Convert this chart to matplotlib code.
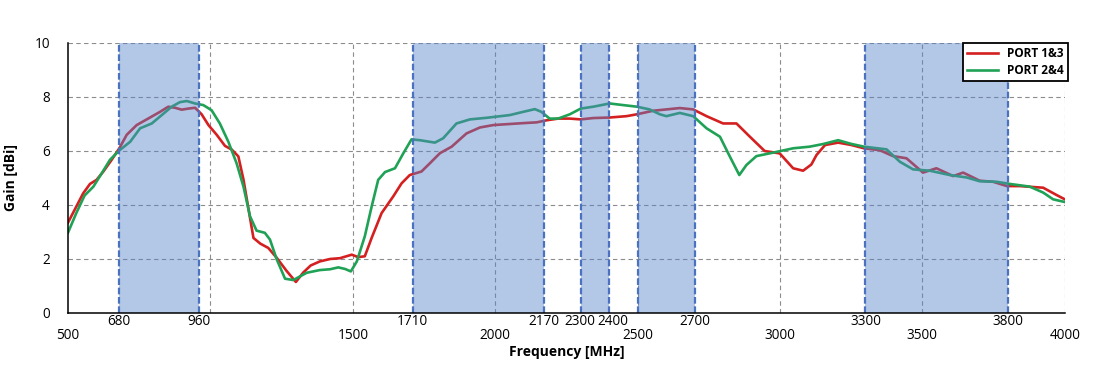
"""Gain vs frequency for two antenna port pairs, with the service bands shaded."""

import matplotlib.pyplot as plt
from matplotlib.transforms import ScaledTranslation

# measured gain, PORT 1&3
freq_red = [500, 553, 577, 600, 624, 653, 680, 706, 741, 788, 823, 852, 876, 899,
            922, 946, 969, 993, 1022, 1051, 1075, 1098, 1116, 1134, 1151, 1175,
            1203, 1233, 1268, 1300, 1326, 1352, 1384, 1420, 1455, 1496, 1519,
            1542, 1566, 1601, 1642, 1671, 1700, 1741, 1770, 1806, 1847, 1899,
            1946, 1993, 2051, 2110, 2145, 2182, 2221, 2262, 2300, 2344, 2402,
            2461, 2498, 2554, 2601, 2648, 2695, 2742, 2800, 2847, 2894, 2946,
            2999, 3046, 3081, 3110, 3128, 3158, 3204, 3251, 3295, 3350, 3397,
            3444, 3502, 3549, 3608, 3643, 3701, 3748, 3797, 3842, 3924, 3971, 4000]
gain_red = [3.35, 4.43, 4.78, 4.93, 5.24, 5.67, 6.1, 6.6, 6.96, 7.24, 7.45, 7.64, 7.6,
            7.53, 7.57, 7.6, 7.36, 6.96, 6.6, 6.19, 6.05, 5.8, 4.94, 3.83, 2.78,
            2.57, 2.41, 2.04, 1.55, 1.15, 1.5, 1.76, 1.91, 2.0, 2.03, 2.16, 2.07,
            2.1, 2.78, 3.7, 4.32, 4.8, 5.11, 5.24, 5.54, 5.92, 6.16, 6.65, 6.87,
            6.96, 7.0, 7.04, 7.06, 7.14, 7.2, 7.2, 7.17, 7.22, 7.24, 7.29, 7.36,
            7.49, 7.54, 7.59, 7.54, 7.29, 7.02, 7.02, 6.53, 6.0, 5.91, 5.36, 5.27,
            5.5, 5.85, 6.22, 6.31, 6.22, 6.1, 6.03, 5.81, 5.73, 5.2, 5.36, 5.07,
            5.2, 4.9, 4.86, 4.7, 4.7, 4.64, 4.37, 4.21]

# measured gain, PORT 2&4
freq_green = [500, 529, 558, 589, 618, 647, 680, 718, 753, 794, 829, 864, 893, 917,
              946, 975, 1004, 1033, 1063, 1092, 1116, 1139, 1162, 1191, 1209, 1233,
              1262, 1291, 1338, 1384, 1420, 1449, 1473, 1493, 1514, 1542, 1566,
              1589, 1613, 1648, 1677, 1706, 1735, 1788, 1817, 1864, 1911, 1970,
              2051, 2098, 2139, 2162, 2191, 2221, 2262, 2300, 2344, 2402, 2449,
              2498, 2542, 2578, 2601, 2648, 2695, 2742, 2789, 2824, 2857, 2882,
              2917, 2976, 3046, 3104, 3152, 3204, 3251, 3295, 3374, 3421, 3467,
              3526, 3596, 3655, 3701, 3760, 3807, 3877, 3924, 3959, 4000]
gain_green = [2.98, 3.7, 4.35, 4.68, 5.17, 5.67, 6.02, 6.34, 6.84, 7.02, 7.33, 7.64,
              7.81, 7.85, 7.76, 7.7, 7.51, 7.02, 6.34, 5.54, 4.68, 3.58, 3.05, 2.97,
              2.72, 1.98, 1.27, 1.22, 1.49, 1.59, 1.62, 1.69, 1.63, 1.54, 1.91, 2.84,
              3.94, 4.93, 5.22, 5.36, 5.91, 6.43, 6.4, 6.31, 6.47, 7.02, 7.17, 7.23,
              7.33, 7.45, 7.55, 7.45, 7.2, 7.2, 7.36, 7.57, 7.64, 7.76, 7.7, 7.64,
              7.54, 7.36, 7.29, 7.41, 7.29, 6.84, 6.53, 5.79, 5.11, 5.48, 5.81, 5.94,
              6.1, 6.16, 6.26, 6.4, 6.26, 6.16, 6.06, 5.6, 5.32, 5.27, 5.11, 5.02,
              4.88, 4.86, 4.78, 4.68, 4.46, 4.21, 4.11]

bands = [(680, 960), (1710, 2170), (2300, 2400), (2500, 2700), (3300, 3800)]
edge_ticks = [680, 960, 1710, 2170, 2300, 2400, 2700, 3300, 3800]
main_ticks = [500, 1500, 2000, 2500, 3000, 3500, 4000]
grid_x = [1000, 1500, 2000, 2500, 3000, 3500, 4000]
grid_y = [2, 4, 6, 8, 10]
y_ticks = [0, 2, 4, 6, 8, 10]

TICK_FONT = {"family": "Open Sans", "size": 9.8}

fig = plt.figure(figsize=(11.1, 3.88), dpi=100)
ax = fig.add_axes([0.0613, 0.1933, 0.898, 0.6959])

for gx in grid_x:
    ax.axvline(gx, color="#8c8c8c", lw=0.8, ls=(0, (4, 3)), zorder=1)
for gy in grid_y:
    ax.axhline(gy, color="#8c8c8c", lw=0.8, ls=(0, (4, 3)), zorder=1)

ax.plot(freq_red, gain_red, color="#d42020", lw=1.9, label="PORT 1&3", zorder=2,
        solid_joinstyle="round")
ax.plot(freq_green, gain_green, color="#1fa255", lw=1.9, label="PORT 2&4", zorder=2,
        solid_joinstyle="round")

# bands sit on top of the curves, semi transparent
for lo, hi in bands:
    ax.axvspan(lo, hi, color="#5883ca", alpha=0.45, lw=0, zorder=3)
    for edge in (lo, hi):
        ax.axvline(edge, color="#4a72c0", lw=1.6, ls=(0, (3, 1.2)), zorder=4)

ax.set_xlim(500, 4000)
ax.set_ylim(0, 10)

ax.set_xticks(main_ticks)
ax.set_xticklabels([str(t) for t in main_ticks], fontdict=TICK_FONT)
ax.set_xticks(edge_ticks, minor=True)
ax.set_xticklabels([str(t) for t in edge_ticks], minor=True, fontdict=TICK_FONT)
ax.tick_params(axis="x", which="major", length=0, pad=11)
ax.tick_params(axis="x", which="minor", length=0, pad=0.5)

# the 2300 / 2400 labels are crowded, nudge them apart a little
nudge = {2300: -1, 2400: 4}
for tick_val, label in zip(edge_ticks, ax.get_xticklabels(minor=True)):
    if tick_val in nudge:
        shift = ScaledTranslation(nudge[tick_val] / 100, 0, fig.dpi_scale_trans)
        label.set_transform(label.get_transform() + shift)

ax.set_yticks(y_ticks)
ax.set_yticklabels([str(t) for t in y_ticks], fontdict=TICK_FONT)
ax.tick_params(axis="y", length=0, pad=13)

for side in ("top", "right"):
    ax.spines[side].set_visible(False)
for side in ("left", "bottom"):
    ax.spines[side].set_linewidth(1.1)
    ax.spines[side].set_zorder(5)

ax.set_xlabel("Frequency [MHz]", fontsize=10, fontweight="bold", family="Open Sans",
              labelpad=1)
ax.set_ylabel("Gain [dBi]", fontsize=10, fontweight="bold", family="Open Sans",
              labelpad=12)

leg = ax.legend(loc="upper right", bbox_to_anchor=(1.003, 1.0), fancybox=False,
                edgecolor="black", framealpha=1, borderaxespad=0, handlelength=2.6,
                prop={"family": "Open Sans", "weight": "bold", "size": 8.5},
                borderpad=0.35, labelspacing=0.35)
leg.get_frame().set_linewidth(1.3)
leg.set_zorder(6)

fig.savefig("out.png", dpi=100)
plt.close(fig)
